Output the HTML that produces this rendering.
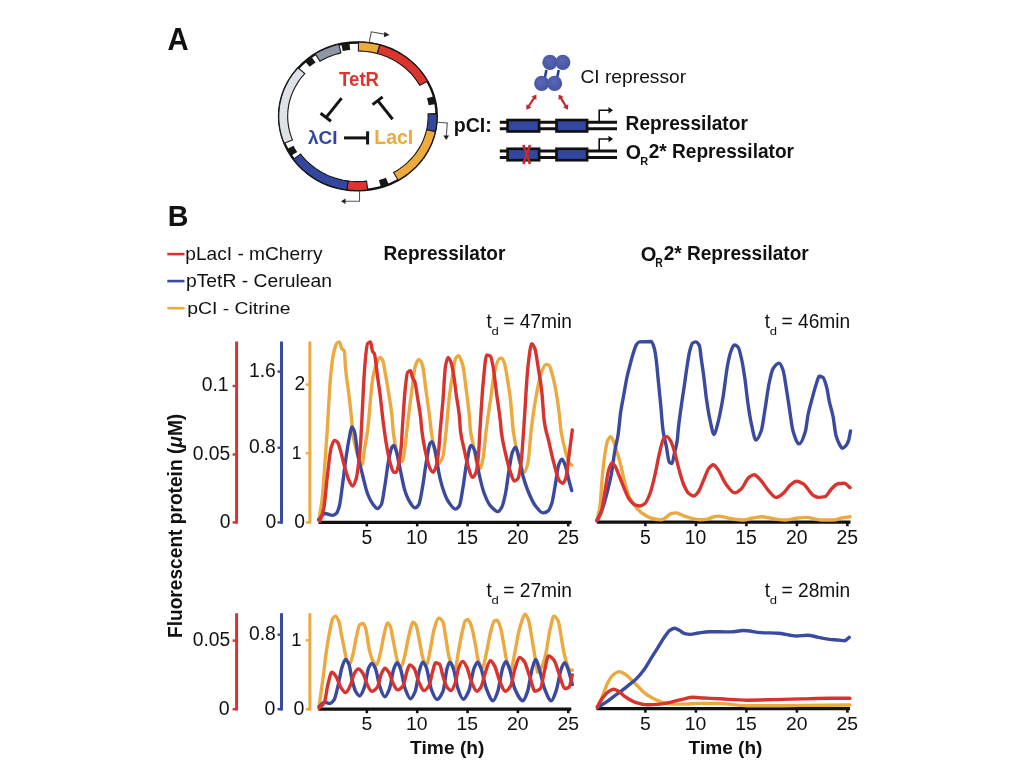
<!DOCTYPE html>
<html><head><meta charset="utf-8"><style>
html,body{margin:0;padding:0;background:#fff;width:1024px;height:768px;overflow:hidden}
svg{display:block;font-family:"Liberation Sans",sans-serif;will-change:transform}
</style></head><body><div id="wrap">
<svg width="1024" height="768" viewBox="0 0 1024 768">
<ellipse cx="357.9" cy="116.3" rx="78.8" ry="73.9" fill="none" stroke="#111" stroke-width="2.5"/>
<polygon points="358.5,42.1 361.5,42.2 364.6,42.4 367.7,42.7 370.8,43.1 373.8,43.6 376.8,44.3 379.8,45.0 377.4,53.6 374.7,52.9 372.0,52.3 369.3,51.9 366.6,51.5 363.9,51.2 361.1,51.1 358.4,51.0" fill="#eeaa3a" stroke="#1a1a1a" stroke-width="1.1" stroke-linejoin="miter"/>
<polygon points="379.8,45.0 382.6,45.8 385.3,46.7 388.0,47.7 390.6,48.7 393.2,49.9 395.7,51.1 398.2,52.5 400.7,53.9 403.0,55.4 405.4,56.9 407.6,58.6 409.8,60.3 412.0,62.1 414.0,64.0 416.0,65.9 417.9,68.0 419.7,70.0 421.5,72.2 423.1,74.3 424.7,76.6 426.2,78.9 427.6,81.2 419.8,85.4 418.5,83.4 417.2,81.4 415.8,79.4 414.3,77.4 412.8,75.6 411.2,73.7 409.5,72.0 407.7,70.3 405.9,68.6 404.0,67.0 402.0,65.5 400.0,64.1 398.0,62.7 395.8,61.4 393.7,60.1 391.5,58.9 389.2,57.9 386.9,56.8 384.6,55.9 382.2,55.0 379.8,54.3 377.4,53.6" fill="#dc3530" stroke="#1a1a1a" stroke-width="1.1" stroke-linejoin="miter"/>
<polygon points="436.9,113.6 437.0,116.2 437.0,118.8 436.8,121.3 436.6,123.9 436.2,126.5 435.8,129.1 435.3,131.6 426.6,129.8 427.1,127.5 427.4,125.3 427.7,123.0 427.9,120.7 428.1,118.5 428.1,116.2 428.1,113.9" fill="#3447a0" stroke="#1a1a1a" stroke-width="1.1" stroke-linejoin="miter"/>
<polygon points="435.3,131.6 434.7,134.2 433.9,136.8 433.1,139.3 432.2,141.9 431.1,144.4 430.0,146.8 428.8,149.2 427.5,151.6 426.1,153.9 424.6,156.2 423.0,158.5 421.3,160.6 419.6,162.7 417.8,164.8 415.9,166.8 413.9,168.7 411.8,170.6 409.7,172.4 407.5,174.1 405.3,175.7 403.0,177.3 400.6,178.8 398.2,180.2 393.6,172.5 395.8,171.3 397.9,170.0 399.9,168.6 401.9,167.1 403.9,165.6 405.8,164.1 407.6,162.4 409.3,160.7 411.0,159.0 412.6,157.2 414.2,155.3 415.7,153.4 417.1,151.4 418.4,149.4 419.6,147.4 420.8,145.3 421.9,143.2 422.9,141.0 423.8,138.8 424.6,136.6 425.4,134.3 426.0,132.1 426.6,129.8" fill="#eeaa3a" stroke="#1a1a1a" stroke-width="1.1" stroke-linejoin="miter"/>
<polygon points="367.7,189.9 364.7,190.2 361.7,190.4 358.8,190.5 355.8,190.5 352.8,190.3 349.8,190.1 346.9,189.8 348.1,181.0 350.8,181.3 353.4,181.5 356.0,181.6 358.7,181.6 361.3,181.5 363.9,181.4 366.6,181.1" fill="#dc3530" stroke="#1a1a1a" stroke-width="1.1" stroke-linejoin="miter"/>
<polygon points="346.9,189.8 344.1,189.4 341.4,188.9 338.7,188.3 336.0,187.6 333.3,186.8 330.6,186.0 328.0,185.0 325.5,184.0 322.9,182.9 320.4,181.7 318.0,180.4 315.6,179.0 313.3,177.6 311.0,176.0 308.8,174.5 306.6,172.8 304.5,171.1 302.5,169.3 300.5,167.4 298.6,165.4 296.8,163.4 295.1,161.4 293.4,159.3 300.7,154.1 302.2,156.0 303.7,157.8 305.3,159.6 307.0,161.3 308.7,162.9 310.5,164.5 312.4,166.0 314.3,167.5 316.3,168.9 318.3,170.2 320.4,171.5 322.5,172.7 324.7,173.8 326.9,174.9 329.1,175.9 331.4,176.8 333.7,177.6 336.1,178.4 338.4,179.0 340.8,179.6 343.2,180.2 345.7,180.6 348.1,181.0" fill="#3447a0" stroke="#1a1a1a" stroke-width="1.1" stroke-linejoin="miter"/>
<polygon points="284.2,143.3 283.2,140.8 282.4,138.4 281.6,135.9 280.9,133.4 280.3,130.8 279.8,128.3 279.4,125.7 279.1,123.1 278.9,120.5 278.8,117.9 278.8,115.3 278.9,112.8 279.1,110.2 279.3,107.6 279.7,105.0 280.2,102.5 280.8,99.9 281.4,97.4 282.2,94.9 283.0,92.4 283.9,90.0 285.0,87.6 286.1,85.2 287.3,82.9 288.6,80.6 289.9,78.3 291.4,76.1 292.9,74.0 294.6,71.9 296.3,69.8 298.0,67.8 304.8,73.6 303.2,75.4 301.7,77.2 300.2,79.0 298.9,80.9 297.6,82.9 296.4,84.9 295.2,86.9 294.2,88.9 293.2,91.0 292.3,93.1 291.4,95.3 290.7,97.5 290.0,99.7 289.4,101.9 288.9,104.1 288.5,106.4 288.2,108.6 287.9,110.9 287.8,113.2 287.7,115.5 287.7,117.7 287.8,120.0 288.0,122.3 288.3,124.6 288.6,126.8 289.1,129.1 289.6,131.3 290.2,133.5 290.9,135.7 291.6,137.9 292.5,140.0" fill="#dfe1e8" stroke="#1a1a1a" stroke-width="1.1" stroke-linejoin="miter"/>
<polygon points="315.2,53.9 317.6,52.4 320.1,51.1 322.6,49.9 325.2,48.7 327.9,47.7 330.5,46.7 333.3,45.8 336.0,45.0 338.8,44.3 340.9,52.9 338.5,53.6 336.0,54.3 333.6,55.0 331.2,55.9 328.9,56.8 326.6,57.8 324.4,58.9 322.1,60.1 320.0,61.3" fill="#8e95a3" stroke="#1a1a1a" stroke-width="1.1" stroke-linejoin="miter"/>
<polygon points="434.1,96.3 434.6,98.2 435.1,100.1 435.5,102.0 435.9,103.9 428.6,105.2 428.3,103.4 427.9,101.7 427.4,100.0 427.0,98.3" fill="#161616" stroke="none" stroke-width="1.1" stroke-linejoin="miter"/>
<polygon points="388.8,184.6 386.9,185.3 385.0,186.0 383.0,186.7 381.0,187.3 378.9,180.2 380.7,179.6 382.4,179.1 384.2,178.5 385.9,177.8" fill="#161616" stroke="none" stroke-width="1.1" stroke-linejoin="miter"/>
<polygon points="291.0,155.8 289.9,154.2 288.9,152.5 287.9,150.8 286.9,149.1 293.6,145.8 294.4,147.4 295.3,148.9 296.2,150.4 297.2,151.9" fill="#161616" stroke="none" stroke-width="1.1" stroke-linejoin="miter"/>
<polygon points="304.8,61.3 306.3,60.0 307.9,58.8 309.5,57.6 311.2,56.4 315.6,62.4 314.1,63.4 312.6,64.5 311.1,65.7 309.7,66.8" fill="#161616" stroke="none" stroke-width="1.1" stroke-linejoin="miter"/>
<polygon points="341.2,43.8 343.2,43.4 345.3,43.1 347.3,42.8 349.4,42.5 350.2,49.9 348.3,50.1 346.4,50.4 344.6,50.7 342.7,51.0" fill="#161616" stroke="none" stroke-width="1.1" stroke-linejoin="miter"/>
<g fill="none" stroke="#555" stroke-width="1.1">
<polyline points="369.3,41.8 371.3,31.8 386,34.5"/>
<polyline points="437.6,122.3 447.3,122.9 446.3,136"/>
<polyline points="359.5,191 359.5,201.3 345,201.3"/>
</g>
<g fill="#222">
<polygon points="389.5,35 384.5,31.7 383.8,37.3"/>
<polygon points="446.2,140 443.3,135.5 449.1,135.5"/>
<polygon points="341,201.3 345.5,198.5 345.5,204.1"/>
</g>
<g stroke="#141414" stroke-width="3" fill="none" stroke-linecap="butt">
<line x1="341.6" y1="98.1" x2="326.2" y2="117.4"/><line x1="320.6" y1="113.3" x2="331" y2="121.2"/>
<line x1="392.6" y1="119.2" x2="377.7" y2="100.5"/><line x1="372.6" y1="104.6" x2="382.6" y2="96.9"/>
<line x1="344" y1="137.9" x2="368" y2="137.9"/><line x1="367.6" y1="131.3" x2="367.6" y2="144.5"/>
</g>
<g stroke="#111" stroke-width="2.8" fill="none">
<line x1="499.8" y1="122.25" x2="617" y2="122.25"/><line x1="499.8" y1="128.75" x2="617" y2="128.75"/>
</g>
<rect x="507.6" y="120.05" width="31.500000000000046" height="11.4" fill="#3447a0" stroke="#111" stroke-width="2.7"/>
<rect x="556.5" y="120.05" width="30.60000000000007" height="11.4" fill="#3447a0" stroke="#111" stroke-width="2.7"/>
<polyline points="599.2,122.25 599.2,110.25 609.5,110.25" fill="none" stroke="#111" stroke-width="1.6"/>
<polygon points="613,110.25 608.5,107.05 608.5,113.45" fill="#111"/>
<g stroke="#111" stroke-width="2.8" fill="none">
<line x1="499.8" y1="151.0" x2="617" y2="151.0"/><line x1="499.8" y1="157.5" x2="617" y2="157.5"/>
</g>
<rect x="507.6" y="148.8" width="31.500000000000046" height="11.4" fill="#3447a0" stroke="#111" stroke-width="2.7"/>
<rect x="556.5" y="148.8" width="30.60000000000007" height="11.4" fill="#3447a0" stroke="#111" stroke-width="2.7"/>
<polyline points="599.2,151.0 599.2,139.0 609.5,139.0" fill="none" stroke="#111" stroke-width="1.6"/>
<polygon points="613,139.0 608.5,135.8 608.5,142.2" fill="#111"/>
<g stroke="#c42a30" stroke-width="2.6" fill="none"><path d="M523.4,145.0 Q527,154.5 530,164.0"/><path d="M530,145.0 Q527,154.5 523.4,164.0"/></g>
<defs><radialGradient id="ball" cx="0.45" cy="0.4" r="0.6"><stop offset="0" stop-color="#5a67b3"/><stop offset="1" stop-color="#4453a4"/></radialGradient></defs>
<g stroke="#2a3f9c" stroke-width="2.6"><line x1="546.4" y1="70" x2="545.0" y2="77"/><line x1="558.7" y1="70" x2="557.3" y2="77"/></g>
<circle cx="549.9" cy="62.3" r="7.6" fill="url(#ball)"/>
<circle cx="562.8" cy="62.3" r="7.6" fill="url(#ball)"/>
<circle cx="541.7" cy="83.4" r="7.6" fill="url(#ball)"/>
<circle cx="554.6" cy="83.4" r="7.6" fill="url(#ball)"/>
<line x1="535.3" y1="96.2" x2="527.5" y2="108.0" stroke="#c0282f" stroke-width="2.2"/>
<polygon points="536.4,94.5 531.4,96.7 536.4,100.0" fill="#c0282f"/>
<polygon points="526.4,109.7 526.4,104.2 531.4,107.5" fill="#c0282f"/>
<line x1="559.7" y1="96.2" x2="567.0" y2="108.0" stroke="#c0282f" stroke-width="2.2"/>
<polygon points="558.7,94.5 558.5,100.0 563.7,96.9" fill="#c0282f"/>
<polygon points="568.0,109.7 563.0,107.3 568.2,104.2" fill="#c0282f"/>
<text transform="translate(167.52,49.70) scale(0.2924,0.3058)" font-size="100" font-weight="bold" fill="#111">A</text>
<text transform="translate(167.69,226.40) scale(0.2869,0.2928)" font-size="100" font-weight="bold" fill="#111">B</text>
<text transform="translate(339.11,86.40) scale(0.1858,0.2043)" font-size="100" font-weight="bold" fill="#dc3530">TetR</text>
<text transform="translate(308.01,144.40) scale(0.1899,0.1843)" font-size="100" font-weight="bold" fill="#3447a0">λCI</text>
<text transform="translate(374.23,144.40) scale(0.1952,0.1957)" font-size="100" font-weight="bold" fill="#eeaa3a">LacI</text>
<text transform="translate(453.73,131.50) scale(0.1961,0.2000)" font-size="100" font-weight="bold" fill="#111">pCI:</text>
<text transform="translate(625.56,129.90) scale(0.1914,0.1978)" font-size="100" font-weight="bold" fill="#111">Repressilator</text>
<text transform="translate(625.82,158.75) scale(0.1957,0.2007)" font-size="100" font-weight="bold" fill="#111">O</text>
<text transform="translate(640.33,165.00) scale(0.1095,0.1072)" font-size="100" font-weight="bold" fill="#111">R</text>
<text transform="translate(648.73,158.40) scale(0.1909,0.1943)" font-size="100" font-weight="bold" fill="#111">2* Repressilator</text>
<text transform="translate(580.44,82.85) scale(0.1921,0.1921)" font-size="100" font-weight="normal" fill="#111">CI repressor</text>
<text transform="translate(185.26,260.00) scale(0.1915,0.1814)" font-size="100" font-weight="normal" fill="#111">pLacI - mCherry</text>
<text transform="translate(185.95,287.40) scale(0.1933,0.1857)" font-size="100" font-weight="normal" fill="#111">pTetR - Cerulean</text>
<text transform="translate(187.25,313.70) scale(0.1935,0.1743)" font-size="100" font-weight="normal" fill="#111">pCI - Citrine</text>
<text transform="translate(383.57,260.30) scale(0.1906,0.2007)" font-size="100" font-weight="bold" fill="#111">Repressilator</text>
<text transform="translate(640.79,260.70) scale(0.2014,0.2064)" font-size="100" font-weight="bold" fill="#111">O</text>
<text transform="translate(655.37,266.60) scale(0.1048,0.1188)" font-size="100" font-weight="bold" fill="#111">R</text>
<text transform="translate(663.73,260.30) scale(0.1906,0.2057)" font-size="100" font-weight="bold" fill="#111">2* Repressilator</text>
<text transform="translate(201.66,391.10) scale(0.1929,0.1929)" font-size="100" font-weight="normal" fill="#111">0.1</text>
<text transform="translate(192.66,459.60) scale(0.1929,0.1929)" font-size="100" font-weight="normal" fill="#111">0.05</text>
<text transform="translate(219.87,527.90) scale(0.1929,0.1929)" font-size="100" font-weight="normal" fill="#111">0</text>
<text transform="translate(248.96,377.00) scale(0.1929,0.1929)" font-size="100" font-weight="normal" fill="#111">1.6</text>
<text transform="translate(248.96,453.20) scale(0.1929,0.1929)" font-size="100" font-weight="normal" fill="#111">0.8</text>
<text transform="translate(265.57,527.90) scale(0.1929,0.1929)" font-size="100" font-weight="normal" fill="#111">0</text>
<text transform="translate(294.46,389.90) scale(0.1929,0.1929)" font-size="100" font-weight="normal" fill="#111">2</text>
<text transform="translate(291.74,459.00) scale(0.1757,0.1783)" font-size="100" font-weight="normal" fill="#111">1</text>
<text transform="translate(294.27,527.90) scale(0.1929,0.1929)" font-size="100" font-weight="normal" fill="#111">0</text>
<text transform="translate(192.66,646.40) scale(0.1929,0.1929)" font-size="100" font-weight="normal" fill="#111">0.05</text>
<text transform="translate(248.96,639.90) scale(0.1929,0.1929)" font-size="100" font-weight="normal" fill="#111">0.8</text>
<text transform="translate(291.30,645.80) scale(0.1843,0.1870)" font-size="100" font-weight="normal" fill="#111">1</text>
<text transform="translate(218.82,714.80) scale(0.1957,0.1957)" font-size="100" font-weight="normal" fill="#111">0</text>
<text transform="translate(264.42,714.80) scale(0.1957,0.1957)" font-size="100" font-weight="normal" fill="#111">0</text>
<text transform="translate(293.42,714.80) scale(0.1957,0.1957)" font-size="100" font-weight="normal" fill="#111">0</text>
<line x1="167.3" y1="254.1" x2="184.5" y2="254.1" stroke="#d8342f" stroke-width="2.6"/>
<line x1="167.3" y1="281.1" x2="184.5" y2="281.1" stroke="#3a4a9e" stroke-width="2.6"/>
<line x1="167.3" y1="308.2" x2="184.5" y2="308.2" stroke="#eba93f" stroke-width="2.6"/>
<text transform="translate(181.9,638.04) rotate(-90) scale(0.1915,0.1943)" font-size="100" font-weight="bold" fill="#111">Fluorescent protein (<tspan font-style="italic">μ</tspan>M)</text>
<text transform="translate(486.52,327.70) scale(0.1880,0.1984)" font-size="100" font-weight="normal" fill="#111">t</text>
<text transform="translate(491.48,334.90) scale(0.1311,0.1151)" font-size="100" font-weight="normal" fill="#111">d</text>
<text transform="translate(503.14,327.90) scale(0.1919,0.1929)" font-size="100" font-weight="normal" fill="#111">= 47min</text>
<text transform="translate(764.82,327.70) scale(0.1880,0.1984)" font-size="100" font-weight="normal" fill="#111">t</text>
<text transform="translate(769.78,334.90) scale(0.1311,0.1151)" font-size="100" font-weight="normal" fill="#111">d</text>
<text transform="translate(781.44,327.90) scale(0.1919,0.1929)" font-size="100" font-weight="normal" fill="#111">= 46min</text>
<text transform="translate(486.62,597.10) scale(0.1880,0.2016)" font-size="100" font-weight="normal" fill="#111">t</text>
<text transform="translate(491.58,604.30) scale(0.1311,0.1151)" font-size="100" font-weight="normal" fill="#111">d</text>
<text transform="translate(503.24,597.30) scale(0.1919,0.1957)" font-size="100" font-weight="normal" fill="#111">= 27min</text>
<text transform="translate(764.82,597.10) scale(0.1880,0.2016)" font-size="100" font-weight="normal" fill="#111">t</text>
<text transform="translate(769.78,604.30) scale(0.1311,0.1151)" font-size="100" font-weight="normal" fill="#111">d</text>
<text transform="translate(781.44,597.30) scale(0.1919,0.1957)" font-size="100" font-weight="normal" fill="#111">= 28min</text>
<line x1="236.6" y1="341.5" x2="236.6" y2="523.6999999999999" stroke="#d8342f" stroke-width="3"/>
<line x1="232.6" y1="386" x2="236.6" y2="386" stroke="#d8342f" stroke-width="2.4"/>
<line x1="232.6" y1="454.5" x2="236.6" y2="454.5" stroke="#d8342f" stroke-width="2.4"/>
<line x1="232.6" y1="522.4" x2="236.6" y2="522.4" stroke="#d8342f" stroke-width="2.4"/>
<line x1="281.5" y1="341.5" x2="281.5" y2="523.6999999999999" stroke="#3a4a9e" stroke-width="3"/>
<line x1="277.5" y1="371.6" x2="281.5" y2="371.6" stroke="#3a4a9e" stroke-width="2.4"/>
<line x1="277.5" y1="447.7" x2="281.5" y2="447.7" stroke="#3a4a9e" stroke-width="2.4"/>
<line x1="277.5" y1="522.4" x2="281.5" y2="522.4" stroke="#3a4a9e" stroke-width="2.4"/>
<line x1="309.9" y1="341.5" x2="309.9" y2="523.6999999999999" stroke="#eba93f" stroke-width="3"/>
<line x1="305.9" y1="384.5" x2="309.9" y2="384.5" stroke="#eba93f" stroke-width="2.4"/>
<line x1="305.9" y1="453.2" x2="309.9" y2="453.2" stroke="#eba93f" stroke-width="2.4"/>
<line x1="305.9" y1="522.4" x2="309.9" y2="522.4" stroke="#eba93f" stroke-width="2.4"/>
<line x1="236.6" y1="613.2" x2="236.6" y2="710.5" stroke="#d8342f" stroke-width="3"/>
<line x1="232.6" y1="640.6" x2="236.6" y2="640.6" stroke="#d8342f" stroke-width="2.4"/>
<line x1="232.6" y1="709.2" x2="236.6" y2="709.2" stroke="#d8342f" stroke-width="2.4"/>
<line x1="281.5" y1="613.2" x2="281.5" y2="710.5" stroke="#3a4a9e" stroke-width="3"/>
<line x1="277.5" y1="634.7" x2="281.5" y2="634.7" stroke="#3a4a9e" stroke-width="2.4"/>
<line x1="277.5" y1="709.2" x2="281.5" y2="709.2" stroke="#3a4a9e" stroke-width="2.4"/>
<line x1="309.9" y1="613.2" x2="309.9" y2="710.5" stroke="#eba93f" stroke-width="3"/>
<line x1="305.9" y1="640.3" x2="309.9" y2="640.3" stroke="#eba93f" stroke-width="2.4"/>
<line x1="305.9" y1="709.2" x2="309.9" y2="709.2" stroke="#eba93f" stroke-width="2.4"/>
<line x1="318.5" y1="522.4" x2="571.5" y2="522.4" stroke="#111" stroke-width="3.2"/>
<line x1="366.85" y1="522.4" x2="366.85" y2="526.4" stroke="#111" stroke-width="2.6"/>
<text transform="translate(361.51,543.80) scale(0.1940,0.1971)" font-size="100" font-weight="normal" fill="#111">5</text>
<line x1="417.2" y1="522.4" x2="417.2" y2="526.4" stroke="#111" stroke-width="2.6"/>
<text transform="translate(406.04,543.80) scale(0.1940,0.1943)" font-size="100" font-weight="normal" fill="#111">10</text>
<line x1="467.55" y1="522.4" x2="467.55" y2="526.4" stroke="#111" stroke-width="2.6"/>
<text transform="translate(456.39,543.80) scale(0.1940,0.1971)" font-size="100" font-weight="normal" fill="#111">15</text>
<line x1="517.9" y1="522.4" x2="517.9" y2="526.4" stroke="#111" stroke-width="2.6"/>
<text transform="translate(507.04,543.80) scale(0.1940,0.1943)" font-size="100" font-weight="normal" fill="#111">20</text>
<line x1="568.25" y1="522.4" x2="568.25" y2="526.4" stroke="#111" stroke-width="2.6"/>
<text transform="translate(557.39,543.80) scale(0.1940,0.1943)" font-size="100" font-weight="normal" fill="#111">25</text>
<line x1="596.8" y1="522.2" x2="850.5" y2="522.2" stroke="#111" stroke-width="3.2"/>
<line x1="645.4" y1="522.2" x2="645.4" y2="526.2" stroke="#111" stroke-width="2.6"/>
<text transform="translate(640.07,543.80) scale(0.1940,0.1971)" font-size="100" font-weight="normal" fill="#111">5</text>
<line x1="695.9" y1="522.2" x2="695.9" y2="526.2" stroke="#111" stroke-width="2.6"/>
<text transform="translate(684.75,543.80) scale(0.1940,0.1943)" font-size="100" font-weight="normal" fill="#111">10</text>
<line x1="746.4" y1="522.2" x2="746.4" y2="526.2" stroke="#111" stroke-width="2.6"/>
<text transform="translate(735.25,543.80) scale(0.1940,0.1971)" font-size="100" font-weight="normal" fill="#111">15</text>
<line x1="796.9" y1="522.2" x2="796.9" y2="526.2" stroke="#111" stroke-width="2.6"/>
<text transform="translate(786.04,543.80) scale(0.1940,0.1943)" font-size="100" font-weight="normal" fill="#111">20</text>
<line x1="847.4" y1="522.2" x2="847.4" y2="526.2" stroke="#111" stroke-width="2.6"/>
<text transform="translate(836.54,543.80) scale(0.1940,0.1943)" font-size="100" font-weight="normal" fill="#111">25</text>
<line x1="318.5" y1="709.2" x2="571.3" y2="709.2" stroke="#111" stroke-width="3.2"/>
<line x1="366.85" y1="709.2" x2="366.85" y2="713.2" stroke="#111" stroke-width="2.6"/>
<text transform="translate(361.51,730.00) scale(0.1940,0.1884)" font-size="100" font-weight="normal" fill="#111">5</text>
<line x1="417.2" y1="709.2" x2="417.2" y2="713.2" stroke="#111" stroke-width="2.6"/>
<text transform="translate(406.04,730.00) scale(0.1940,0.1857)" font-size="100" font-weight="normal" fill="#111">10</text>
<line x1="467.55" y1="709.2" x2="467.55" y2="713.2" stroke="#111" stroke-width="2.6"/>
<text transform="translate(456.39,730.00) scale(0.1940,0.1884)" font-size="100" font-weight="normal" fill="#111">15</text>
<line x1="517.9" y1="709.2" x2="517.9" y2="713.2" stroke="#111" stroke-width="2.6"/>
<text transform="translate(507.04,730.00) scale(0.1940,0.1857)" font-size="100" font-weight="normal" fill="#111">20</text>
<line x1="568.25" y1="709.2" x2="568.25" y2="713.2" stroke="#111" stroke-width="2.6"/>
<text transform="translate(557.39,730.00) scale(0.1940,0.1857)" font-size="100" font-weight="normal" fill="#111">25</text>
<text transform="translate(410.11,754.40) scale(0.1921,0.1871)" font-size="100" font-weight="bold" fill="#111">Time (h)</text>
<line x1="596.5" y1="708.7" x2="850" y2="708.7" stroke="#111" stroke-width="3.2"/>
<line x1="645.4" y1="708.7" x2="645.4" y2="712.7" stroke="#111" stroke-width="2.6"/>
<text transform="translate(640.07,730.00) scale(0.1940,0.1913)" font-size="100" font-weight="normal" fill="#111">5</text>
<line x1="695.9" y1="708.7" x2="695.9" y2="712.7" stroke="#111" stroke-width="2.6"/>
<text transform="translate(684.75,730.00) scale(0.1940,0.1886)" font-size="100" font-weight="normal" fill="#111">10</text>
<line x1="746.4" y1="708.7" x2="746.4" y2="712.7" stroke="#111" stroke-width="2.6"/>
<text transform="translate(735.25,730.00) scale(0.1940,0.1913)" font-size="100" font-weight="normal" fill="#111">15</text>
<line x1="796.9" y1="708.7" x2="796.9" y2="712.7" stroke="#111" stroke-width="2.6"/>
<text transform="translate(786.04,730.00) scale(0.1940,0.1886)" font-size="100" font-weight="normal" fill="#111">20</text>
<line x1="847.4" y1="708.7" x2="847.4" y2="712.7" stroke="#111" stroke-width="2.6"/>
<text transform="translate(836.54,730.00) scale(0.1940,0.1886)" font-size="100" font-weight="normal" fill="#111">25</text>
<text transform="translate(688.61,753.90) scale(0.1908,0.1871)" font-size="100" font-weight="bold" fill="#111">Time (h)</text>
<path d="M318.75,519.75 C319.80,513.50 320.85,509.48 321.90,501.00 C322.93,492.66 323.97,476.04 325.00,462.25 C325.73,452.46 326.47,442.02 327.20,431.00 C328.33,413.98 329.47,387.90 330.60,376.30 C331.65,365.55 332.70,356.99 333.75,352.50 C334.80,348.01 335.85,343.94 336.90,343.10 C337.73,342.43 338.57,341.90 339.40,341.90 C340.23,341.90 341.07,347.53 341.90,348.75 C342.73,349.97 343.57,349.51 344.40,351.25 C344.80,352.08 345.20,364.45 345.60,368.75 C346.65,380.04 347.70,384.84 348.75,393.75 C349.80,402.66 350.85,410.24 351.90,422.50 C352.10,424.83 352.30,429.33 352.50,431.00 C353.75,441.44 355.00,444.88 356.25,449.75 C357.70,455.40 359.15,461.55 360.60,463.50 C361.03,464.08 361.47,464.75 361.90,464.75 C362.73,464.75 363.57,454.77 364.40,449.75 C365.43,443.53 366.47,438.55 367.50,431.00 C369.37,417.36 371.23,385.27 373.10,376.25 C374.77,368.20 376.43,362.94 378.10,360.00 C378.73,358.88 379.37,357.50 380.00,357.50 C380.83,357.50 381.67,358.65 382.50,360.00 C383.53,361.67 384.57,369.49 385.60,375.00 C386.65,380.60 387.70,387.11 388.75,393.75 C389.80,400.39 390.85,405.46 391.90,415.00 C392.33,418.94 392.77,427.28 393.20,431.00 C394.22,439.73 395.23,445.31 396.25,449.75 C397.50,455.21 398.75,462.25 400.00,462.25 C400.83,462.25 401.67,461.76 402.50,461.00 C403.33,460.24 404.17,453.02 405.00,447.25 C405.60,443.09 406.20,436.16 406.80,431.00 C408.28,418.24 409.77,406.04 411.25,395.00 C412.70,384.21 414.15,368.97 415.60,365.00 C416.65,362.12 417.70,359.40 418.75,359.40 C419.58,359.40 420.42,360.58 421.25,361.90 C421.87,362.88 422.48,365.27 423.10,368.10 C423.93,371.93 424.77,381.24 425.60,387.50 C426.87,397.01 428.13,404.77 429.40,415.00 C430.00,419.85 430.60,426.70 431.20,431.00 C432.05,437.09 432.90,442.16 433.75,446.00 C435.42,453.52 437.08,463.50 438.75,463.50 C440.17,463.50 441.58,460.24 443.00,456.00 C444.03,452.90 445.07,440.48 446.10,431.00 C447.15,421.37 448.20,406.16 449.25,397.50 C450.50,387.19 451.75,379.99 453.00,372.50 C453.83,367.51 454.67,360.22 455.50,358.75 C456.53,356.93 457.57,355.60 458.60,355.60 C459.23,355.60 459.87,357.41 460.50,358.75 C461.33,360.51 462.17,362.76 463.00,366.25 C464.03,370.57 465.07,380.73 466.10,388.75 C467.15,396.90 468.20,404.07 469.25,415.00 C469.67,419.34 470.08,427.85 470.50,431.00 C471.33,437.30 472.17,439.33 473.00,443.50 C474.25,449.75 475.50,458.74 476.75,462.25 C477.80,465.20 478.85,468.50 479.90,468.50 C480.93,468.50 481.97,463.39 483.00,458.50 C484.03,453.61 485.07,439.17 486.10,431.00 C487.57,419.40 489.03,410.16 490.50,400.00 C491.97,389.84 493.43,375.50 494.90,370.00 C496.35,364.57 497.80,359.39 499.25,358.75 C500.08,358.38 500.92,358.10 501.75,358.10 C502.58,358.10 503.42,360.35 504.25,362.50 C505.30,365.20 506.35,372.57 507.40,378.75 C508.43,384.84 509.47,391.22 510.50,400.00 C511.43,407.93 512.37,424.11 513.30,431.00 C514.45,439.48 515.60,444.44 516.75,449.75 C518.00,455.52 519.25,461.42 520.50,464.75 C521.75,468.08 523.00,472.25 524.25,472.25 C525.50,472.25 526.75,467.62 528.00,462.25 C529.03,457.81 530.07,439.66 531.10,431.00 C532.57,418.71 534.03,408.26 535.50,400.00 C537.58,388.26 539.67,376.00 541.75,371.25 C543.20,367.94 544.65,364.40 546.10,364.40 C547.15,364.40 548.20,364.88 549.25,365.60 C550.08,366.17 550.92,369.73 551.75,372.50 C553.00,376.65 554.25,382.18 555.50,388.75 C556.75,395.32 558.00,403.82 559.25,413.75 C559.92,419.05 560.58,428.48 561.25,432.60 C563.00,443.40 564.75,448.54 566.50,454.70 C567.33,457.63 568.17,461.27 569.00,462.50 C569.90,463.83 570.80,464.23 571.70,465.10" fill="none" stroke="#eba93f" stroke-width="3.4" stroke-linejoin="round" stroke-linecap="round"/>
<path d="M318.75,519.75 C320.83,517.67 322.92,513.50 325.00,513.50 C327.50,513.50 330.00,515.40 332.50,515.40 C333.75,515.40 335.00,514.56 336.25,513.50 C337.30,512.61 338.35,509.72 339.40,506.00 C340.43,502.34 341.47,492.22 342.50,484.75 C343.75,475.72 345.00,464.35 346.25,456.00 C347.30,448.99 348.35,442.46 349.40,437.25 C350.20,433.28 351.00,426.90 351.80,426.90 C352.63,426.90 353.47,428.90 354.30,431.00 C355.57,434.19 356.83,449.41 358.10,456.00 C359.57,463.63 361.03,468.89 362.50,474.75 C364.17,481.41 365.83,489.15 367.50,493.50 C369.17,497.85 370.83,501.28 372.50,503.50 C374.17,505.72 375.83,508.50 377.50,508.50 C378.75,508.50 380.00,506.86 381.25,504.75 C382.50,502.64 383.75,492.16 385.00,484.75 C386.25,477.34 387.50,465.92 388.75,459.75 C389.80,454.56 390.85,448.84 391.90,447.25 C392.52,446.31 393.13,445.40 393.75,445.40 C394.58,445.40 395.42,448.54 396.25,451.00 C397.50,454.70 398.75,462.77 400.00,468.50 C401.67,476.14 403.33,486.00 405.00,491.00 C406.67,496.00 408.33,499.74 410.00,502.25 C411.67,504.76 413.33,507.90 415.00,507.90 C416.25,507.90 417.50,506.53 418.75,504.75 C420.00,502.97 421.25,494.11 422.50,487.25 C423.75,480.39 425.00,469.39 426.25,462.25 C427.50,455.11 428.75,445.44 430.00,443.50 C430.63,442.52 431.27,441.60 431.90,441.60 C432.93,441.60 433.97,446.02 435.00,449.75 C436.25,454.26 437.50,466.28 438.75,472.25 C440.17,479.02 441.58,484.75 443.00,489.00 C444.67,494.01 446.33,498.45 448.00,501.00 C450.50,504.82 453.00,509.10 455.50,509.10 C456.75,509.10 458.00,507.77 459.25,506.00 C460.50,504.23 461.75,494.39 463.00,487.25 C464.25,480.11 465.50,468.42 466.75,462.25 C468.20,455.10 469.65,445.40 471.10,445.40 C472.37,445.40 473.63,448.10 474.90,451.00 C476.35,454.32 477.80,468.28 479.25,474.75 C480.92,482.19 482.58,489.10 484.25,493.50 C486.33,499.00 488.42,503.70 490.50,506.00 C493.00,508.76 495.50,511.60 498.00,511.60 C499.25,511.60 500.50,509.45 501.75,507.25 C503.00,505.05 504.25,499.41 505.50,493.50 C506.75,487.59 508.00,475.74 509.25,468.50 C510.30,462.42 511.35,454.83 512.40,452.25 C513.43,449.71 514.47,447.25 515.50,447.25 C516.75,447.25 518.00,453.93 519.25,458.50 C520.50,463.07 521.75,471.39 523.00,476.00 C524.67,482.15 526.33,486.95 528.00,491.00 C530.50,497.08 533.00,502.85 535.50,506.00 C538.00,509.15 540.50,512.90 543.00,512.90 C544.67,512.90 546.33,512.10 548.00,511.00 C549.25,510.17 550.50,507.14 551.75,503.50 C553.00,499.86 554.25,490.53 555.50,483.50 C556.53,477.68 557.57,467.96 558.60,465.10 C559.70,462.06 560.80,459.20 561.90,459.20 C563.00,459.20 564.10,462.39 565.20,465.10 C566.47,468.23 567.73,475.84 569.00,480.70 C569.90,484.16 570.80,487.23 571.70,490.50" fill="none" stroke="#3a4a9e" stroke-width="3.4" stroke-linejoin="round" stroke-linecap="round"/>
<path d="M320.00,521.00 C321.25,516.83 322.50,514.58 323.75,508.50 C325.00,502.42 326.25,484.85 327.50,474.75 C328.75,464.65 330.00,451.38 331.25,447.25 C332.30,443.78 333.35,440.40 334.40,440.40 C335.43,440.40 336.47,441.23 337.50,442.25 C338.53,443.27 339.57,447.59 340.60,451.00 C341.65,454.46 342.70,459.72 343.75,463.50 C345.42,469.50 347.08,476.13 348.75,479.75 C350.00,482.46 351.25,486.00 352.50,486.00 C353.75,486.00 355.00,482.46 356.25,478.50 C357.08,475.86 357.92,468.92 358.75,462.25 C359.37,457.31 359.98,451.82 360.60,443.50 C360.83,440.35 361.07,435.20 361.30,431.00 C362.53,408.83 363.77,377.12 365.00,363.75 C365.83,354.72 366.67,344.70 367.50,343.75 C368.53,342.57 369.57,341.90 370.60,341.90 C371.23,341.90 371.87,349.93 372.50,351.25 C373.13,352.57 373.77,352.41 374.40,353.75 C375.43,355.93 376.47,368.89 377.50,376.25 C378.33,382.19 379.17,387.26 380.00,393.75 C381.03,401.80 382.07,412.95 383.10,421.25 C383.53,424.73 383.97,427.91 384.40,431.00 C385.02,435.40 385.63,439.90 386.25,443.50 C387.50,450.81 388.75,457.90 390.00,462.25 C391.25,466.60 392.50,472.25 393.75,472.25 C394.58,472.25 395.42,472.25 396.25,472.25 C397.08,472.25 397.92,467.39 398.75,463.50 C399.58,459.61 400.42,454.58 401.25,446.00 C401.57,442.74 401.88,435.78 402.20,431.00 C403.13,416.92 404.07,400.36 405.00,391.25 C405.83,383.12 406.67,373.47 407.50,372.50 C408.53,371.29 409.57,370.60 410.60,370.60 C411.23,370.60 411.87,375.84 412.50,377.50 C413.33,379.68 414.17,380.00 415.00,382.50 C415.83,385.00 416.67,392.33 417.50,397.50 C418.53,403.92 419.57,409.01 420.60,417.50 C421.03,421.06 421.47,427.56 421.90,431.00 C422.93,439.19 423.97,444.88 425.00,449.75 C426.67,457.61 428.33,465.57 430.00,468.50 C431.03,470.32 432.07,472.25 433.10,472.25 C434.15,472.25 435.20,469.26 436.25,466.00 C437.08,463.41 437.92,457.18 438.75,449.75 C439.23,445.44 439.72,436.81 440.20,431.00 C441.13,419.77 442.07,411.38 443.00,400.00 C443.83,389.84 444.67,370.88 445.50,366.25 C446.33,361.62 447.17,357.50 448.00,357.50 C449.03,357.50 450.07,359.96 451.10,362.50 C452.15,365.08 453.20,372.00 454.25,378.75 C454.87,382.71 455.48,389.17 456.10,393.75 C457.15,401.54 458.20,405.29 459.25,415.00 C459.67,418.85 460.08,427.77 460.50,431.00 C461.75,440.70 463.00,443.95 464.25,449.75 C465.50,455.55 466.75,461.95 468.00,466.00 C469.47,470.75 470.93,477.25 472.40,477.25 C473.63,477.25 474.87,475.21 476.10,472.25 C476.93,470.25 477.77,462.60 478.60,453.50 C479.03,448.77 479.47,438.00 479.90,431.00 C480.93,414.31 481.97,395.84 483.00,385.00 C484.25,371.88 485.50,355.00 486.75,355.00 C488.00,355.00 489.25,355.43 490.50,356.25 C491.33,356.79 492.17,361.96 493.00,366.25 C494.25,372.69 495.50,385.63 496.75,395.00 C498.00,404.37 499.25,410.39 500.50,422.50 C500.73,424.76 500.97,429.11 501.20,431.00 C502.63,442.59 504.07,447.21 505.50,453.50 C507.17,460.81 508.83,467.51 510.50,472.25 C511.75,475.81 513.00,481.00 514.25,481.00 C515.50,481.00 516.75,480.02 518.00,478.50 C519.03,477.25 520.07,470.00 521.10,462.25 C521.93,456.00 522.77,442.18 523.60,431.00 C525.07,411.32 526.53,378.61 528.00,366.25 C529.25,355.71 530.50,343.75 531.75,343.75 C532.80,343.75 533.85,346.14 534.90,348.75 C535.93,351.31 536.97,359.95 538.00,366.25 C539.25,373.87 540.50,380.33 541.75,391.25 C542.58,398.53 543.42,415.26 544.25,421.25 C544.87,425.68 545.48,428.26 546.10,431.00 C546.80,434.11 547.50,436.20 548.20,439.00 C549.93,445.92 551.67,454.72 553.40,461.20 C555.37,468.55 557.33,478.33 559.30,480.70 C560.40,482.02 561.50,483.30 562.60,483.30 C563.67,483.30 564.73,480.91 565.80,478.10 C566.90,475.20 568.00,462.83 569.10,454.70 C570.17,446.81 571.23,438.23 572.30,430.00" fill="none" stroke="#d8342f" stroke-width="3.4" stroke-linejoin="round" stroke-linecap="round"/>
<path d="M596.90,520.40 C597.93,515.60 598.97,513.12 600.00,506.00 C600.83,500.26 601.67,483.18 602.50,474.75 C603.33,466.32 604.17,458.75 605.00,453.50 C605.83,448.25 606.67,442.88 607.50,441.00 C608.53,438.67 609.57,436.60 610.60,436.60 C611.43,436.60 612.27,438.75 613.10,440.40 C614.15,442.49 615.20,446.46 616.25,449.75 C617.50,453.67 618.75,457.54 620.00,462.25 C621.25,466.96 622.50,473.63 623.75,478.50 C625.42,484.99 627.08,492.29 628.75,496.00 C630.83,500.64 632.92,503.42 635.00,506.00 C637.50,509.10 640.00,511.81 642.50,513.50 C645.83,515.76 649.17,517.77 652.50,518.50 C655.42,519.14 658.33,519.75 661.25,519.75 C662.92,519.75 664.58,518.25 666.25,517.25 C667.92,516.25 669.58,513.84 671.25,513.50 C672.92,513.16 674.58,512.90 676.25,512.90 C677.92,512.90 679.58,514.14 681.25,514.75 C684.17,515.82 687.08,517.18 690.00,517.90 C693.33,518.72 696.67,519.75 700.00,519.75 C702.50,519.75 705.00,519.47 707.50,519.10 C709.17,518.86 710.83,517.70 712.50,517.25 C714.33,516.76 716.17,516.10 718.00,516.10 C722.30,516.10 726.60,518.12 730.90,518.70 C735.20,519.28 739.50,520.00 743.80,520.00 C746.80,520.00 749.80,518.53 752.80,518.00 C755.80,517.47 758.80,516.70 761.80,516.70 C765.67,516.70 769.53,518.21 773.40,518.70 C777.70,519.25 782.00,520.00 786.30,520.00 C790.17,520.00 794.03,518.40 797.90,518.00 C800.47,517.73 803.03,517.40 805.60,517.40 C810.77,517.40 815.93,520.00 821.10,520.00 C825.40,520.00 829.70,520.00 834.00,520.00 C836.57,520.00 839.13,518.50 841.70,518.00 C844.47,517.46 847.23,517.13 850.00,516.70" fill="none" stroke="#eba93f" stroke-width="3.4" stroke-linejoin="round" stroke-linecap="round"/>
<path d="M597.00,521.00 C598.83,516.83 600.67,513.57 602.50,508.50 C604.17,503.89 605.83,497.49 607.50,491.00 C608.75,486.13 610.00,481.32 611.25,474.75 C612.50,468.18 613.75,456.72 615.00,449.75 C616.03,443.98 617.07,441.30 618.10,434.75 C618.93,429.47 619.77,418.25 620.60,412.50 C621.65,405.25 622.70,400.83 623.75,395.00 C624.80,389.17 625.85,382.40 626.90,377.50 C627.93,372.67 628.97,368.95 630.00,365.00 C631.03,361.05 632.07,357.00 633.10,353.75 C634.15,350.44 635.20,346.53 636.25,345.00 C637.30,343.47 638.35,341.98 639.40,341.90 C643.35,341.59 647.30,341.50 651.25,341.50 C652.30,341.50 653.35,345.10 654.40,348.75 C655.02,350.89 655.63,355.31 656.25,360.00 C656.87,364.69 657.48,372.54 658.10,378.75 C658.93,387.14 659.77,395.06 660.60,403.75 C661.43,412.44 662.27,425.39 663.10,431.00 C664.15,438.07 665.20,440.80 666.25,446.00 C667.30,451.20 668.35,461.32 669.40,462.25 C670.23,462.99 671.07,463.50 671.90,463.50 C672.73,463.50 673.57,457.14 674.40,453.50 C675.43,448.99 676.47,446.51 677.50,438.50 C677.70,436.95 677.90,433.04 678.10,431.00 C679.15,420.32 680.20,413.87 681.25,406.25 C682.30,398.63 683.35,392.22 684.40,385.00 C685.23,379.27 686.07,372.88 686.90,367.50 C687.73,362.12 688.57,355.90 689.40,352.50 C690.43,348.29 691.47,343.81 692.50,343.10 C693.53,342.39 694.57,341.90 695.60,341.90 C696.87,341.90 698.13,343.22 699.40,345.60 C700.02,346.76 700.63,354.40 701.25,358.75 C702.08,364.63 702.92,369.85 703.75,376.25 C704.58,382.65 705.42,391.57 706.25,397.50 C707.50,406.40 708.75,414.42 710.00,420.00 C711.37,426.11 712.73,434.50 714.10,434.50 C715.40,434.50 716.70,427.40 718.00,422.50 C719.67,416.21 721.33,407.32 723.00,397.50 C724.47,388.86 725.93,374.15 727.40,366.25 C728.43,360.68 729.47,355.38 730.50,352.50 C731.75,349.01 733.00,345.00 734.25,345.00 C735.50,345.00 736.75,345.79 738.00,346.90 C739.25,348.01 740.50,354.45 741.75,360.00 C742.80,364.66 743.85,371.56 744.90,378.75 C745.93,385.83 746.97,396.61 748.00,403.75 C749.03,410.89 750.07,417.77 751.10,422.50 C752.73,429.98 754.37,440.00 756.00,440.00 C757.73,440.00 759.47,435.74 761.20,431.00 C762.43,427.63 763.67,417.37 764.90,410.00 C766.35,401.34 767.80,389.19 769.25,382.50 C770.50,376.74 771.75,370.66 773.00,368.75 C775.08,365.57 777.17,363.10 779.25,363.10 C780.50,363.10 781.75,366.53 783.00,370.00 C784.25,373.47 785.50,383.65 786.75,391.25 C787.58,396.32 788.42,402.18 789.25,407.50 C790.50,415.49 791.75,426.93 793.00,431.00 C795.07,437.73 797.13,443.90 799.20,443.90 C801.30,443.90 803.40,438.04 805.50,431.00 C806.33,428.21 807.17,419.17 808.00,415.00 C809.25,408.75 810.50,404.68 811.75,400.00 C813.42,393.76 815.08,387.27 816.75,382.50 C817.58,380.11 818.42,376.25 819.25,376.25 C820.50,376.25 821.75,376.76 823.00,377.50 C824.25,378.24 825.50,382.90 826.75,387.50 C827.58,390.56 828.42,397.35 829.25,401.25 C830.50,407.10 831.75,410.04 833.00,416.25 C834.00,421.22 835.00,431.82 836.00,435.50 C837.20,439.91 838.40,442.50 839.60,444.60 C840.50,446.18 841.40,448.30 842.30,448.30 C843.53,448.30 844.77,446.96 846.00,445.60 C846.90,444.61 847.80,442.79 848.70,440.10 C849.30,438.31 849.90,434.03 850.50,431.00" fill="none" stroke="#3a4a9e" stroke-width="3.4" stroke-linejoin="round" stroke-linecap="round"/>
<path d="M596.90,520.40 C598.35,517.68 599.80,516.38 601.25,512.25 C602.50,508.69 603.75,498.08 605.00,491.00 C606.25,483.92 607.50,473.63 608.75,469.75 C609.80,466.49 610.85,462.90 611.90,462.90 C612.93,462.90 613.97,464.57 615.00,466.00 C616.25,467.73 617.50,471.74 618.75,474.75 C620.42,478.77 622.08,483.30 623.75,487.25 C625.42,491.20 627.08,496.16 628.75,498.50 C630.83,501.43 632.92,503.93 635.00,504.75 C636.67,505.40 638.33,506.00 640.00,506.00 C641.67,506.00 643.33,504.83 645.00,503.50 C646.67,502.17 648.33,497.85 650.00,493.50 C651.67,489.15 653.33,481.81 655.00,474.75 C656.47,468.54 657.93,459.40 659.40,453.50 C660.85,447.67 662.30,439.94 663.75,438.50 C664.80,437.46 665.85,436.60 666.90,436.60 C668.35,436.60 669.80,439.60 671.25,442.25 C672.50,444.54 673.75,449.21 675.00,453.50 C676.25,457.79 677.50,464.00 678.75,468.50 C680.42,474.51 682.08,480.96 683.75,484.75 C685.42,488.54 687.08,492.20 688.75,493.50 C690.42,494.80 692.08,496.00 693.75,496.00 C695.42,496.00 697.08,493.31 698.75,491.00 C700.42,488.69 702.08,483.50 703.75,479.75 C705.42,476.00 707.08,470.56 708.75,468.50 C710.20,466.71 711.65,464.75 713.10,464.75 C714.73,464.75 716.37,467.47 718.00,469.50 C720.57,472.70 723.13,480.44 725.70,483.80 C728.73,487.78 731.77,492.90 734.80,492.90 C736.93,492.90 739.07,490.83 741.20,489.00 C743.77,486.80 746.33,479.27 748.90,477.40 C750.63,476.14 752.37,474.80 754.10,474.80 C756.23,474.80 758.37,477.87 760.50,480.00 C763.10,482.60 765.70,487.48 768.30,490.30 C770.87,493.09 773.43,497.40 776.00,497.40 C778.57,497.40 781.13,494.94 783.70,492.90 C785.87,491.18 788.03,486.82 790.20,485.10 C792.33,483.41 794.47,481.30 796.60,481.30 C798.77,481.30 800.93,482.60 803.10,483.80 C806.53,485.70 809.97,493.51 813.40,495.40 C815.10,496.34 816.80,497.40 818.50,497.40 C820.67,497.40 822.83,497.13 825.00,496.70 C827.13,496.28 829.27,491.05 831.40,489.00 C833.57,486.92 835.73,484.16 837.90,483.80 C840.03,483.44 842.17,483.20 844.30,483.20 C846.20,483.20 848.10,486.20 850.00,487.70" fill="none" stroke="#d8342f" stroke-width="3.4" stroke-linejoin="round" stroke-linecap="round"/>
<path d="M319.10,706.20 C320.43,696.70 321.77,687.75 323.10,677.70 C324.23,669.16 325.37,658.34 326.50,650.60 C327.63,642.86 328.77,635.90 329.90,630.30 C330.80,625.85 331.70,620.26 332.60,618.80 C333.50,617.34 334.40,616.10 335.30,616.10 C336.43,616.10 337.57,618.29 338.70,620.80 C339.60,622.80 340.50,629.88 341.40,634.40 C342.30,638.92 343.20,643.63 344.10,647.90 C345.00,652.17 345.90,658.05 346.80,660.10 C347.70,662.15 348.60,664.20 349.50,664.20 C350.63,664.20 351.77,658.81 352.90,654.70 C354.03,650.59 355.17,641.90 356.30,637.10 C357.43,632.30 358.57,625.74 359.70,624.90 C360.83,624.06 361.97,623.50 363.10,623.50 C364.00,623.50 364.90,626.32 365.80,629.00 C366.93,632.38 368.07,644.68 369.20,649.30 C370.53,654.73 371.87,659.52 373.20,661.50 C374.33,663.18 375.47,664.90 376.60,664.90 C377.73,664.90 378.87,658.90 380.00,654.70 C381.37,649.63 382.73,639.86 384.10,634.40 C385.23,629.87 386.37,622.90 387.50,622.90 C388.40,622.90 389.30,624.55 390.20,626.30 C391.33,628.51 392.47,637.11 393.60,642.50 C394.93,648.84 396.27,658.37 397.60,661.50 C398.73,664.16 399.87,666.90 401.00,666.90 C402.13,666.90 403.27,661.41 404.40,657.40 C405.77,652.56 407.13,642.41 408.50,637.10 C410.07,631.01 411.63,622.20 413.20,622.20 C414.10,622.20 415.00,623.48 415.90,624.90 C417.27,627.05 418.63,637.48 420.00,643.90 C421.13,649.23 422.27,657.87 423.40,660.10 C424.50,662.26 425.60,664.20 426.70,664.20 C427.83,664.20 428.97,655.73 430.10,650.60 C431.47,644.41 432.83,633.44 434.20,629.00 C435.77,623.91 437.33,618.10 438.90,618.10 C440.27,618.10 441.63,619.77 443.00,622.20 C443.90,623.80 444.80,631.95 445.70,637.10 C446.83,643.59 447.97,653.32 449.10,657.40 C449.77,659.80 450.43,661.57 451.10,662.80 C452.47,665.32 453.83,668.20 455.20,668.20 C456.33,668.20 457.47,656.47 458.60,650.60 C459.73,644.73 460.87,637.88 462.00,633.00 C463.10,628.26 464.20,621.71 465.30,620.80 C466.20,620.05 467.10,619.50 468.00,619.50 C469.13,619.50 470.27,623.10 471.40,626.20 C472.77,629.93 474.13,638.27 475.50,645.20 C476.40,649.76 477.30,657.39 478.20,660.10 C479.57,664.21 480.93,668.20 482.30,668.20 C483.63,668.20 484.97,658.97 486.30,653.30 C487.67,647.49 489.03,638.15 490.40,633.00 C491.73,627.97 493.07,621.32 494.40,620.80 C495.30,620.45 496.20,620.20 497.10,620.20 C498.23,620.20 499.37,624.13 500.50,627.60 C501.63,631.07 502.77,639.14 503.90,645.20 C504.80,650.01 505.70,657.08 506.60,660.10 C507.97,664.69 509.33,669.60 510.70,669.60 C512.03,669.60 513.37,659.42 514.70,653.30 C516.07,647.02 517.43,637.26 518.80,631.70 C520.17,626.14 521.53,621.42 522.90,618.10 C523.57,616.48 524.23,614.10 524.90,614.10 C526.03,614.10 527.17,616.75 528.30,619.50 C529.43,622.25 530.57,630.82 531.70,637.10 C532.83,643.38 533.97,650.91 535.10,657.40 C536.00,662.55 536.90,672.30 537.80,672.30 C539.13,672.30 540.47,669.45 541.80,666.90 C543.17,664.28 544.53,659.06 545.90,653.30 C547.23,647.68 548.57,636.07 549.90,630.30 C551.27,624.39 552.63,616.10 554.00,616.10 C555.37,616.10 556.73,618.13 558.10,620.80 C559.00,622.56 559.90,629.47 560.80,634.40 C561.70,639.33 562.60,646.28 563.50,650.60 C564.40,654.92 565.30,658.67 566.20,661.40 C567.33,664.84 568.47,669.15 569.60,669.60 C570.50,669.95 571.40,670.00 572.30,670.20" fill="none" stroke="#eba93f" stroke-width="3.4" stroke-linejoin="round" stroke-linecap="round"/>
<path d="M319.10,706.80 C320.90,705.23 322.70,702.10 324.50,702.10 C326.30,702.10 328.10,703.50 329.90,703.50 C331.27,703.50 332.63,701.94 334.00,700.10 C335.33,698.30 336.67,691.26 338.00,685.90 C339.37,680.41 340.73,670.94 342.10,666.90 C343.23,663.55 344.37,659.40 345.50,659.40 C346.63,659.40 347.77,661.71 348.90,664.20 C350.00,666.62 351.10,676.13 352.20,680.40 C353.33,684.80 354.47,689.36 355.60,691.30 C356.97,693.64 358.33,696.00 359.70,696.00 C361.27,696.00 362.83,691.42 364.40,687.20 C365.77,683.52 367.13,671.06 368.50,668.20 C369.63,665.83 370.77,663.50 371.90,663.50 C373.03,663.50 374.17,665.92 375.30,668.20 C376.87,671.35 378.43,683.03 380.00,687.20 C381.60,691.46 383.20,696.70 384.80,696.70 C386.37,696.70 387.93,692.58 389.50,688.60 C390.87,685.13 392.23,673.37 393.60,669.60 C394.73,666.47 395.87,662.80 397.00,662.80 C398.10,662.80 399.20,665.67 400.30,668.20 C401.90,671.88 403.50,684.41 405.10,688.60 C406.90,693.31 408.70,698.70 410.50,698.70 C412.07,698.70 413.63,695.09 415.20,691.30 C416.57,688.00 417.93,675.64 419.30,671.00 C420.43,667.16 421.57,662.10 422.70,662.10 C423.83,662.10 424.97,664.58 426.10,666.90 C427.90,670.58 429.70,685.42 431.50,689.90 C433.30,694.38 435.10,699.40 436.90,699.40 C438.93,699.40 440.97,695.79 443.00,691.20 C444.37,688.11 445.73,672.48 447.10,668.20 C448.00,665.38 448.90,662.10 449.80,662.10 C450.93,662.10 452.07,665.39 453.20,668.20 C454.77,672.09 456.33,684.18 457.90,688.50 C459.70,693.46 461.50,699.30 463.30,699.30 C465.10,699.30 466.90,695.19 468.70,691.20 C470.50,687.21 472.30,672.61 474.10,668.20 C475.23,665.42 476.37,662.10 477.50,662.10 C478.63,662.10 479.77,665.52 480.90,668.20 C482.70,672.46 484.50,684.07 486.30,688.50 C488.57,694.08 490.83,700.70 493.10,700.70 C494.67,700.70 496.23,695.65 497.80,691.20 C499.40,686.66 501.00,672.70 502.60,668.20 C503.70,665.11 504.80,661.40 505.90,661.40 C507.03,661.40 508.17,665.31 509.30,668.20 C511.10,672.79 512.90,684.55 514.70,688.50 C517.43,694.51 520.17,700.70 522.90,700.70 C524.47,700.70 526.03,695.68 527.60,691.20 C529.17,686.72 530.73,673.42 532.30,668.20 C533.43,664.43 534.57,659.40 535.70,659.40 C536.83,659.40 537.97,664.77 539.10,668.20 C540.90,673.64 542.70,684.07 544.50,688.50 C546.77,694.08 549.03,700.70 551.30,700.70 C552.87,700.70 554.43,695.43 556.00,691.20 C557.83,686.25 559.67,672.36 561.50,668.20 C562.60,665.70 563.70,662.80 564.80,662.80 C565.93,662.80 567.07,666.70 568.20,669.60 C569.57,673.09 570.93,679.53 572.30,684.50" fill="none" stroke="#3a4a9e" stroke-width="3.4" stroke-linejoin="round" stroke-linecap="round"/>
<path d="M319.10,708.20 C320.90,706.17 322.70,705.61 324.50,702.10 C325.63,699.89 326.77,688.88 327.90,684.50 C329.23,679.35 330.57,672.30 331.90,672.30 C333.27,672.30 334.63,674.51 336.00,676.40 C337.57,678.56 339.13,684.83 340.70,687.20 C342.30,689.62 343.90,692.60 345.50,692.60 C347.07,692.60 348.63,688.94 350.20,685.90 C351.57,683.24 352.93,676.03 354.30,673.70 C355.63,671.42 356.97,668.90 358.30,668.90 C359.90,668.90 361.50,671.39 363.10,673.70 C364.67,675.97 366.23,683.18 367.80,685.90 C369.17,688.27 370.53,691.30 371.90,691.30 C373.70,691.30 375.50,689.49 377.30,687.20 C378.67,685.46 380.03,676.63 381.40,673.70 C382.53,671.27 383.67,668.20 384.80,668.20 C386.13,668.20 387.47,670.38 388.80,672.30 C390.40,674.61 392.00,681.70 393.60,684.50 C394.93,686.83 396.27,689.90 397.60,689.90 C399.40,689.90 401.20,688.18 403.00,685.90 C404.37,684.17 405.73,674.75 407.10,671.00 C408.00,668.53 408.90,664.90 409.80,664.90 C411.17,664.90 412.53,666.54 413.90,668.20 C415.70,670.39 417.50,679.48 419.30,683.10 C420.87,686.25 422.43,690.60 424.00,690.60 C425.60,690.60 427.20,688.43 428.80,685.90 C430.13,683.80 431.47,675.43 432.80,671.00 C433.70,668.01 434.60,662.80 435.50,662.80 C436.87,662.80 438.23,663.33 439.60,664.20 C440.73,664.92 441.87,672.84 443.00,676.30 C444.37,680.48 445.73,685.48 447.10,687.20 C448.43,688.88 449.77,690.50 451.10,690.50 C452.47,690.50 453.83,686.64 455.20,683.10 C456.33,680.16 457.47,671.01 458.60,668.20 C459.93,664.89 461.27,661.40 462.60,661.40 C463.97,661.40 465.33,664.35 466.70,666.90 C468.27,669.82 469.83,678.14 471.40,681.70 C473.20,685.79 475.00,691.20 476.80,691.20 C478.17,691.20 479.53,689.26 480.90,687.20 C482.27,685.14 483.63,677.41 485.00,673.60 C486.80,668.59 488.60,660.80 490.40,660.80 C491.73,660.80 493.07,663.31 494.40,665.50 C496.23,668.51 498.07,677.66 499.90,681.70 C501.70,685.66 503.50,691.20 505.30,691.20 C507.10,691.20 508.90,688.78 510.70,685.80 C512.03,683.60 513.37,673.79 514.70,669.60 C516.30,664.57 517.90,657.40 519.50,657.40 C521.07,657.40 522.63,659.39 524.20,661.40 C526.00,663.71 527.80,671.38 529.60,676.30 C531.43,681.31 533.27,691.20 535.10,691.20 C536.90,691.20 538.70,690.18 540.50,688.50 C541.83,687.25 543.17,676.21 544.50,670.90 C545.87,665.46 547.23,656.00 548.60,656.00 C550.40,656.00 552.20,657.96 554.00,660.10 C555.80,662.24 557.60,670.28 559.40,675.00 C561.20,679.72 563.00,688.50 564.80,688.50 C566.17,688.50 567.53,688.02 568.90,687.20 C570.03,686.52 571.17,679.07 572.30,675.00" fill="none" stroke="#d8342f" stroke-width="3.4" stroke-linejoin="round" stroke-linecap="round"/>
<path d="M597.40,706.80 C599.00,703.43 600.60,700.36 602.20,696.70 C604.00,692.58 605.80,686.48 607.60,683.10 C609.40,679.72 611.20,676.48 613.00,675.00 C615.03,673.33 617.07,671.60 619.10,671.60 C621.13,671.60 623.17,673.09 625.20,674.30 C627.00,675.37 628.80,677.42 630.60,679.10 C632.87,681.21 635.13,683.55 637.40,685.80 C639.67,688.05 641.93,690.78 644.20,692.60 C646.90,694.77 649.60,696.58 652.30,698.00 C655.47,699.67 658.63,701.20 661.80,702.10 C664.93,702.99 668.07,704.10 671.20,704.10 C675.73,704.10 680.27,704.10 684.80,704.10 C689.30,704.10 693.80,703.40 698.30,703.40 C705.53,703.40 712.77,703.48 720.00,703.60 C729.10,703.75 738.20,705.70 747.30,705.70 C756.43,705.70 765.57,705.70 774.70,705.70 C783.80,705.70 792.90,705.49 802.00,705.40 C817.97,705.25 833.93,705.13 849.90,705.00" fill="none" stroke="#eba93f" stroke-width="3.4" stroke-linejoin="round" stroke-linecap="round"/>
<path d="M597.40,707.50 C600.33,705.70 603.27,704.07 606.20,702.10 C609.83,699.67 613.47,696.73 617.10,694.00 C620.70,691.30 624.30,688.66 627.90,685.80 C630.60,683.66 633.30,681.71 636.00,679.10 C638.73,676.46 641.47,673.32 644.20,669.60 C646.43,666.56 648.67,662.29 650.90,658.70 C653.17,655.06 655.43,651.50 657.70,647.90 C659.97,644.30 662.23,640.27 664.50,637.10 C666.30,634.58 668.10,631.43 669.90,630.30 C671.47,629.31 673.03,628.30 674.60,628.30 C676.20,628.30 677.80,629.50 679.40,630.30 C681.20,631.20 683.00,633.31 684.80,633.70 C686.60,634.09 688.40,634.40 690.20,634.40 C692.90,634.40 695.60,633.38 698.30,633.00 C701.93,632.48 705.57,631.70 709.20,631.70 C712.80,631.70 716.40,631.77 720.00,631.80 C723.63,631.83 727.27,631.90 730.90,631.90 C735.00,631.90 739.10,630.50 743.20,630.50 C749.13,630.50 755.07,632.29 761.00,632.60 C766.93,632.91 772.87,632.87 778.80,633.20 C784.73,633.53 790.67,636.00 796.60,636.00 C800.23,636.00 803.87,635.30 807.50,635.30 C811.13,635.30 814.77,636.62 818.40,637.30 C822.07,637.99 825.73,639.02 829.40,639.40 C832.60,639.73 835.80,639.79 839.00,640.10 C840.80,640.27 842.60,640.80 844.40,640.80 C846.00,640.80 847.60,638.47 849.20,637.30" fill="none" stroke="#3a4a9e" stroke-width="3.4" stroke-linejoin="round" stroke-linecap="round"/>
<path d="M597.40,706.80 C599.43,703.43 601.47,699.22 603.50,696.70 C605.33,694.42 607.17,692.28 609.00,691.20 C610.57,690.27 612.13,689.20 613.70,689.20 C615.27,689.20 616.83,690.34 618.40,691.20 C620.67,692.44 622.93,695.17 625.20,696.70 C628.37,698.83 631.53,701.07 634.70,702.10 C638.77,703.42 642.83,704.80 646.90,704.80 C651.40,704.80 655.90,704.47 660.40,704.10 C664.00,703.80 667.60,702.86 671.20,702.10 C674.83,701.33 678.47,700.19 682.10,699.40 C685.70,698.62 689.30,697.30 692.90,697.30 C696.50,697.30 700.10,697.80 703.70,698.00 C709.13,698.31 714.57,698.53 720.00,698.80 C729.10,699.26 738.20,700.20 747.30,700.20 C756.43,700.20 765.57,699.82 774.70,699.60 C783.80,699.39 792.90,699.13 802.00,698.90 C811.13,698.67 820.27,698.20 829.40,698.20 C836.23,698.20 843.07,698.20 849.90,698.20" fill="none" stroke="#d8342f" stroke-width="3.4" stroke-linejoin="round" stroke-linecap="round"/>
</svg></div></body></html>
